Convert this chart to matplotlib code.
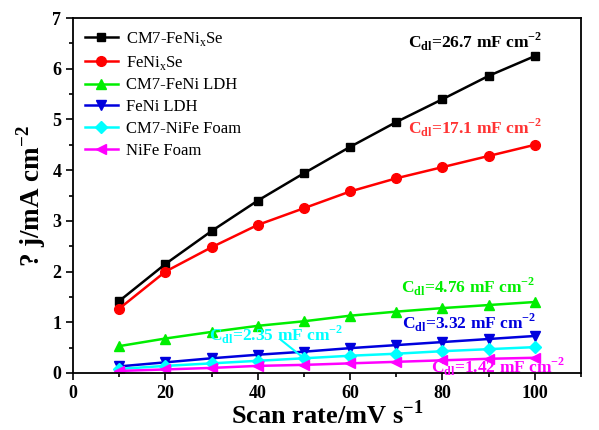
import matplotlib
matplotlib.use("Agg")
import matplotlib.pyplot as plt
from matplotlib.ticker import MultipleLocator

plt.rcParams['font.family'] = ['Liberation Serif', 'DejaVu Serif']
plt.rcParams['mathtext.fontset'] = 'custom'
plt.rcParams['mathtext.rm'] = 'Liberation Serif'
plt.rcParams['mathtext.bf'] = 'Liberation Serif:bold'

scan_rate = [10, 20, 30, 40, 50, 60, 70, 80, 90, 100]
labels = ["CM7-FeNi$_\\mathregular{x}$Se", "FeNi$_\\mathregular{x}$Se", "CM7-FeNi LDH",
          "FeNi LDH", "CM7-NiFe Foam", "NiFe Foam"]
cm7_fenixse = [1.42, 2.15, 2.80, 3.40, 3.94, 4.46, 4.95, 5.40, 5.86, 6.25]
fenixse = [1.27, 2.00, 2.48, 2.92, 3.25, 3.58, 3.84, 4.06, 4.28, 4.50]
cm7_feni_ldh = [0.53, 0.68, 0.81, 0.93, 1.02, 1.13, 1.21, 1.28, 1.34, 1.40]
feni_ldh = [0.13, 0.21, 0.29, 0.36, 0.42, 0.49, 0.55, 0.61, 0.67, 0.73]
cm7_nife_foam = [0.08, 0.14, 0.19, 0.24, 0.29, 0.34, 0.38, 0.43, 0.47, 0.51]
nife_foam = [0.04, 0.07, 0.10, 0.14, 0.16, 0.19, 0.22, 0.25, 0.28, 0.30]
cdl_texts = ["26.7", "17.1", "4.76", "3.32", "2.35", "1.42"]

series = [cm7_fenixse, fenixse, cm7_feni_ldh, feni_ldh, cm7_nife_foam, nife_foam]
colors = ['black', 'red', '#00ee00', '#0000dd', 'cyan', 'magenta']
markers = ['s', 'o', '^', 'v', 'D', '<']
msizes = [6, 7, 7, 7, 6, 7]

fig = plt.figure(figsize=(5.99, 4.30), dpi=100)
ax = fig.add_axes([0.122, 0.1326, 0.848, 0.8254])

for y, lab, c, m, ms in zip(series, labels, colors, markers, msizes):
    ax.plot(scan_rate, y, color=c, marker=m, markersize=ms, linewidth=1.8, label=lab)

ax.set_xlim(0, 110)
ax.set_ylim(0, 7)
ax.xaxis.set_minor_locator(MultipleLocator(10))
ax.yaxis.set_major_locator(MultipleLocator(1))
ax.yaxis.set_minor_locator(MultipleLocator(0.5))
ax.set_xticks([0, 20, 40, 60, 80, 100])
ax.tick_params(which='both', direction='out', top=False, right=False, width=1.2)
ax.tick_params(which='major', length=5, labelsize=13)
ax.tick_params(which='minor', length=3)
for lbl in ax.get_xticklabels() + ax.get_yticklabels():
    lbl.set_fontweight('bold')
for sp in ax.spines.values():
    sp.set_linewidth(1.3)

ax.set_xlabel("Scan rate/mV s$^\\mathregular{-1}$", fontsize=19, fontweight='bold', labelpad=-1)
ax.set_ylabel("? j/mA cm$^\\mathregular{-2}$", fontsize=19.5, fontweight='bold', labelpad=3)

leg = ax.legend(loc='upper left', frameon=False, fontsize=12, handlelength=2.0,
                borderaxespad=0.3, labelspacing=0.35, handletextpad=0.45)

def cdl(v):
    return "C$_\\mathbf{dl}$=" + v + " mF cm$^\\mathbf{-2}$"

ann_col = ['black', '#ff3333', '#00ee00', '#0000dd', 'cyan', 'magenta']
ann_pos = [(101.7, 6.53), (101.7, 4.83), (100, 1.70), (100.2, 0.99), (58.5, 0.75), (106.5, 0.12)]
for t, c, (xx, yy) in zip(cdl_texts, ann_col, ann_pos):
    ax.text(xx, yy, cdl(t), color=c, fontsize=12.5, fontweight='bold',
            ha='right', va='center')
ax.annotate("", xy=(scan_rate[4], cm7_nife_foam[4]), xytext=(44.5, 0.69),
            arrowprops=dict(arrowstyle='-', color='cyan', lw=1.5))

fig.savefig("out.png", dpi=100)
